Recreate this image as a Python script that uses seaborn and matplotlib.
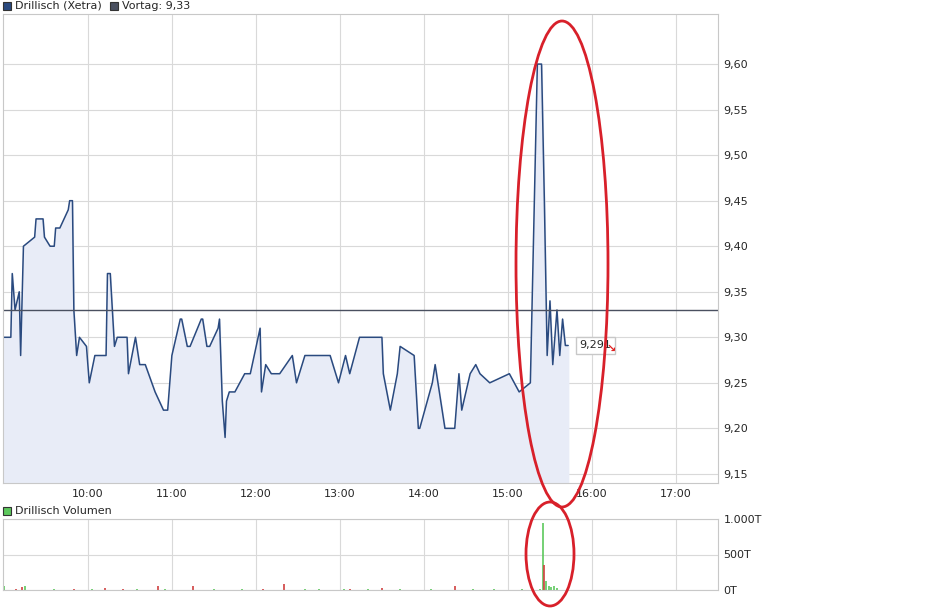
import matplotlib
matplotlib.use("Agg")
import matplotlib.pyplot as plt
import seaborn as sns
import pandas as pd
import numpy as np
from matplotlib.patches import Ellipse, Rectangle

sns.set_style("white")
plt.rcParams['font.family'] = ['DejaVu Sans']

# price series: minutes after 9:00, price
minutes = [0, 5, 6, 8, 11, 12, 14, 22, 23, 28, 29, 33, 36, 37, 40, 46, 47, 49, 50, 52, 54, 59,
           61, 65, 73, 74, 76, 79, 81, 88, 89, 94, 97, 101, 108, 114, 117, 120, 126, 127, 131,
           133, 141, 142, 145, 147, 153, 154, 156, 158, 159, 161, 165, 172, 176, 183, 184, 187,
           191, 197, 206, 209, 215, 217, 233, 239, 244, 247, 254, 270, 271, 276, 281, 283, 293,
           296, 297, 306, 308, 315, 322, 325, 327, 333, 337, 340, 347, 361, 368, 376, 381, 384,
           386, 388, 390, 392, 395, 397, 399, 401, 403]
prices = [9.30, 9.30, 9.37, 9.33, 9.35, 9.28, 9.40, 9.41, 9.43, 9.43, 9.41, 9.40, 9.40, 9.42,
          9.42, 9.44, 9.45, 9.45, 9.33, 9.28, 9.30, 9.29, 9.25, 9.28, 9.28, 9.37, 9.37, 9.29,
          9.30, 9.30, 9.26, 9.30, 9.27, 9.27, 9.24, 9.22, 9.22, 9.28, 9.32, 9.32, 9.29, 9.29,
          9.32, 9.32, 9.29, 9.29, 9.31, 9.32, 9.23, 9.19, 9.23, 9.24, 9.24, 9.26, 9.26, 9.31,
          9.24, 9.27, 9.26, 9.26, 9.28, 9.25, 9.28, 9.28, 9.28, 9.25, 9.28, 9.26, 9.30, 9.30,
          9.26, 9.22, 9.26, 9.29, 9.28, 9.20, 9.20, 9.25, 9.27, 9.20, 9.20, 9.26, 9.22, 9.26,
          9.27, 9.26, 9.25, 9.26, 9.24, 9.25, 9.60, 9.60, 9.45, 9.28, 9.34, 9.27, 9.33, 9.28,
          9.32, 9.291, 9.291]
prev_close = 9.33
last_label = "9,291"

vol_minutes = [0, 9, 13, 15, 36, 50, 63, 72, 85, 95, 110, 115, 135, 150, 170, 185, 200, 215,
               225, 243, 247, 260, 270, 283, 305, 322, 335, 350, 370, 378, 383, 385, 386,
               387, 389, 391, 393, 395]
vol_values = [60, 15, 40, 55, 15, 20, 15, 25, 15, 20, 50, 20, 60, 15, 20, 15, 80, 15, 20, 20,
              15, 20, 25, 15, 20, 60, 15, 20, 15, 20, 15, 950, 350, 130, 60, 40, 50, 30]
vol_up = [True, False, False, True, True, False, True, False, False, True, False, True,
          False, True, True, False, False, True, True, True, False, True, False, True,
          True, False, True, True, True, True, True, True, False, True, True, True, True, True]

df = pd.DataFrame({"t": np.array(minutes) / 60 + 9, "p": prices})
vdf = pd.DataFrame({"t": np.array(vol_minutes) / 60 + 9, "v": vol_values, "up": vol_up})

fig = plt.figure(figsize=(9.51, 6.08), dpi=100)
W, H = 951, 608
ax = fig.add_axes([3/W, 1-483/H, 715/W, 469/H])
axv = fig.add_axes([3/W, 1-590/H, 715/W, 71/H])

line_c = "#2a4a7f"
ax.fill_between(df.t, df.p, 9.14, color="#e8ecf7")
sns.lineplot(data=df, x="t", y="p", ax=ax, color=line_c, lw=1.1)
ax.axhline(prev_close, color="#4a5060", lw=1)
ax.set_xlim(8.99, 17.5)
ax.set_ylim(9.14, 9.655)
xt = list(range(10, 18))
ax.set_xticks(xt)
ax.set_xticklabels([f"{h}:00" for h in xt], fontsize=8)
yt = np.round(np.arange(9.15, 9.61, 0.05), 2)
ax.set_yticks(yt)
ax.set_yticklabels([f"{v:.2f}".replace(".", ",") for v in yt], fontsize=8)
ax.yaxis.tick_right()
ax.grid(True, color="#d9d9d9", lw=0.8)
ax.set_xlabel(""); ax.set_ylabel("")
ax.tick_params(length=0, pad=4)
for s in ax.spines.values():
    s.set_color("#c8c8c8")

colors = ["#5cc85c" if u else "#d04040" for u in vdf.up]
axv.vlines(vdf.t, 0, vdf.v, colors=colors, lw=1.2)
axv.set_xlim(8.99, 17.5)
axv.set_ylim(0, 1000)
axv.set_xticks(xt); axv.set_xticklabels([])
axv.set_yticks([0, 500, 1000])
axv.set_yticklabels(["0T", "500T", "1.000T"], fontsize=8)
axv.yaxis.tick_right()
axv.grid(True, color="#d9d9d9", lw=0.8)
axv.tick_params(length=0, pad=4)
for s in axv.spines.values():
    s.set_color("#c8c8c8")

def legend_box(x, y, fc, txt):
    fig.patches.append(Rectangle((x/W, 1-(y+4)/H), 8/W, 8/H, transform=fig.transFigure,
                                 fc=fc, ec="#333333", lw=0.8))
    fig.text((x+12)/W, 1-y/H, txt, fontsize=8, va="center")
legend_box(3, 6, "#2a4a7f", "Drillisch (Xetra)")
legend_box(110, 6, "#4a5060", "Vortag: 9,33")
legend_box(3, 511, "#5cc85c", "Drillisch Volumen")

ax.annotate(last_label, xy=(15.72, 9.291), xytext=(15.85, 9.291), fontsize=8, va="center",
            bbox=dict(boxstyle="square,pad=0.3", fc="white", ec="#c8c8c8"))
fig.text(606/W, 1-349/H, "\u2198", color="#e02020", fontsize=8, va="center", fontweight="bold")

fig.patches.append(Ellipse((562/W, 1-264/H), 92/W, 486/H, transform=fig.transFigure,
                           fill=False, ec="#d8202a", lw=2))
fig.patches.append(Ellipse((550/W, 1-554/H), 48/W, 104/H, transform=fig.transFigure,
                           fill=False, ec="#d8202a", lw=2))

fig.savefig("out.png", dpi=100)
